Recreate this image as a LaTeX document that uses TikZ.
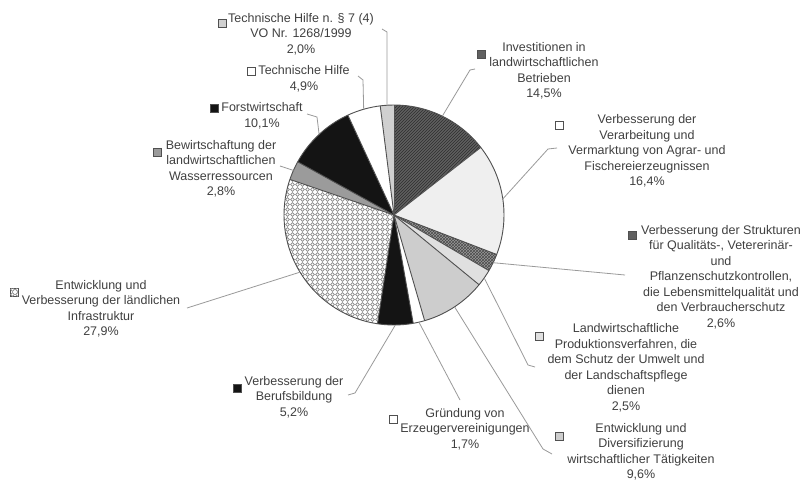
\documentclass[tikz,border=0pt]{standalone}
\usepackage{fontspec}
\setmainfont{Liberation Sans}
\usetikzlibrary{patterns}
\pgfdeclarepatternformonly{scallops}{\pgfqpoint{-1pt}{-1pt}}{\pgfqpoint{6pt}{6pt}}{\pgfqpoint{5pt}{5pt}}{%
  \pgfsetlinewidth{0.7pt}%
  \pgfpathcircle{\pgfqpoint{2.5pt}{2.5pt}}{1.9pt}%
  \pgfusepath{stroke}}
\definecolor{txt}{HTML}{404040}
\definecolor{leadc}{HTML}{9A9A9A}
\definecolor{edgec}{HTML}{505050}
\definecolor{cInvest}{HTML}{606060}
\definecolor{cInvestL}{HTML}{2E2E2E}
\definecolor{cVerarb}{HTML}{EFEFEF}
\definecolor{cQual}{HTML}{9A9A9A}
\definecolor{cQualL}{HTML}{4A4A4A}
\definecolor{cProd}{HTML}{E0E0E0}
\definecolor{cDivers}{HTML}{CDCDCD}
\definecolor{cBlack}{HTML}{141414}
\definecolor{cInfraL}{HTML}{8C8C8C}
\definecolor{cWasser}{HTML}{9B9B9B}
\definecolor{cTHsieben}{HTML}{D0D0D0}
\newcommand\pieslice[3]{\path[#3] (c) -- ++(#1:110) arc[start angle=#1, end angle=#2, radius=110] -- cycle;}
\begin{document}
\begin{tikzpicture}[x=1pt,y=-1pt,
  lbl/.style={align=center, text=txt, inner sep=0pt, font=\fontsize{12.5}{15.5}\selectfont},
  mk/.style={draw=edgec, line width=0.9pt, minimum size=8pt, inner sep=0pt},
  lead/.style={draw=leadc, line width=0.8pt},
  border/.style={draw=edgec, line width=0.9pt}]
\useasboundingbox (0,0) rectangle (803,482);
\fill[white] (0,0) rectangle (803,482);
\coordinate (c) at (394,215);
% slices
\pieslice{-90}{-37.90}{fill=cInvest, postaction={pattern=north east lines, pattern color=cInvestL}}
\pieslice{-37.90}{21.02}{fill=cVerarb}
\pieslice{21.02}{30.36}{fill=cQual, postaction={pattern=crosshatch, pattern color=cQualL}}
\pieslice{30.36}{39.34}{fill=cProd}
\pieslice{39.34}{73.83}{fill=cDivers}
\pieslice{73.83}{79.94}{fill=white}
\pieslice{79.94}{98.62}{fill=cBlack}
\pieslice{98.62}{198.86}{fill=white, postaction={pattern=scallops, pattern color=cInfraL}}
\pieslice{198.86}{208.92}{fill=cWasser}
\pieslice{208.92}{245.21}{fill=cBlack}
\pieslice{245.21}{262.81}{fill=white}
\pieslice{262.81}{270}{fill=cTHsieben}
% slice borders
\foreach \a in {-90,-37.90,21.02,30.36,39.34,73.83,79.94,98.62,198.86,208.92,245.21,262.81}
  \draw[border] (c) -- ++(\a:110);
\draw[border] (c) circle[radius=110];
% edge points (slice middles)
\path (c) ++(266.4:110) coordinate (e1);
\path (c) ++(254.0:110) coordinate (e2);
\path (c) ++(227.1:110) coordinate (e3);
\path (c) ++(203.9:110) coordinate (e4);
\path (c) ++(148.7:110) coordinate (e5);
\path (c) ++(89.3:110) coordinate (e6);
\path (c) ++(76.9:110) coordinate (e7);
\path (c) ++(56.6:110) coordinate (e8);
\path (c) ++(34.9:110) coordinate (e9);
\path (c) ++(25.7:110) coordinate (e10);
\path (c) ++(-8.4:110) coordinate (e11);
\path (c) ++(-63.95:110) coordinate (e12);
% labels
\node[lbl] (l1) at (301,34) {Technische Hilfe n. § 7 (4)\\VO Nr. 1268/1999\\2,0\%};
\node[lbl] (l2) at (304,79) {Technische Hilfe\\4,9\%};
\node[lbl] (l3) at (262,116) {Forstwirtschaft\\10,1\%};
\node[lbl] (l4) at (221,169) {Bewirtschaftung der\\landwirtschaftlichen\\Wasserressourcen\\2,8\%};
\node[lbl] (l5) at (101,309) {Entwicklung und\\Verbesserung der ländlichen\\Infrastruktur\\27,9\%};
\node[lbl] (l6) at (294,397) {Verbesserung der\\Berufsbildung\\5,2\%};
\node[lbl] (l7) at (465,429) {Gründung von\\Erzeugervereinigungen\\1,7\%};
\node[lbl] (l8) at (641,452) {Entwicklung und\\Diversifizierung\\wirtschaftlicher Tätigkeiten\\9,6\%};
\node[lbl] (l9) at (626,368) {Landwirtschaftliche\\Produktionsverfahren, die\\dem Schutz der Umwelt und\\der Landschaftspflege\\dienen\\2,5\%};
\node[lbl] (l10) at (721,277) {Verbesserung der Strukturen\\für Qualitäts-, Vetererinär-\\und\\Pflanzenschutzkontrollen,\\die Lebensmittelqualität und\\den Verbraucherschutz\\2,6\%};
\node[lbl] (l11) at (647,151) {Verbesserung der\\Verarbeitung und\\Vermarktung von Agrar- und\\Fischereierzeugnissen\\16,4\%};
\node[lbl] (l12) at (544,71) {Investitionen in\\landwirtschaftlichen\\Betrieben\\14,5\%};
% markers
\node[mk, fill=cTHsieben] (m1) at (222,23) {};
\node[mk, fill=white] (m2) at (251,71) {};
\node[mk, fill=cBlack] (m3) at (214,108) {};
\node[mk, fill=cWasser] (m4) at (157,152) {};
\node[mk, fill=white, postaction={pattern=scallops, pattern color=cInfraL}] (m5) at (14,292) {};
\node[mk, fill=cBlack] (m6) at (237,388) {};
\node[mk, fill=white] (m7) at (393,419) {};
\node[mk, fill=cDivers] (m8) at (559,436) {};
\node[mk, fill=cProd] (m9) at (539,336) {};
\node[mk, fill=cInvest] (m10) at (632,235) {};
\node[mk, fill=white] (m11) at (559,125) {};
\node[mk, fill=cInvest] (m12) at (481,54) {};
% leader hooks
\coordinate (h1a) at (382,29); \coordinate (h1b) at (387,32);
\coordinate (h2a) at (358,76); \coordinate (h2b) at (363,80);
\coordinate (h3a) at (307,114); \coordinate (h3b) at (317,117);
\coordinate (h4a) at (280,166);
\coordinate (h5a) at (187,308);
\coordinate (h6a) at (348,395); \coordinate (h6b) at (355,393);
\coordinate (h7a) at (460,400);
\coordinate (h8a) at (552,454); \coordinate (h8b) at (543,449);
\coordinate (h9a) at (535,367); \coordinate (h9b) at (528,365);
\coordinate (h10a) at (625,275);
\coordinate (h11a) at (557,148); \coordinate (h11b) at (548,149);
\coordinate (h12a) at (475,69); \coordinate (h12b) at (470,70);
% leaders
\draw[lead] (h1a) -- (h1b) -- (e1);
\draw[lead] (h2a) -- (h2b) -- (e2);
\draw[lead] (h3a) -- (h3b) -- (e3);
\draw[lead] (h4a) -- (e4);
\draw[lead] (h5a) -- (e5);
\draw[lead] (h6a) -- (h6b) -- (e6);
\draw[lead] (h7a) -- (e7);
\draw[lead] (h8a) -- (h8b) -- (e8);
\draw[lead] (h9a) -- (h9b) -- (e9);
\draw[lead] (h10a) -- (e10);
\draw[lead] (h11a) -- (h11b) -- (e11);
\draw[lead] (h12a) -- (h12b) -- (e12);
\end{tikzpicture}
\end{document}
